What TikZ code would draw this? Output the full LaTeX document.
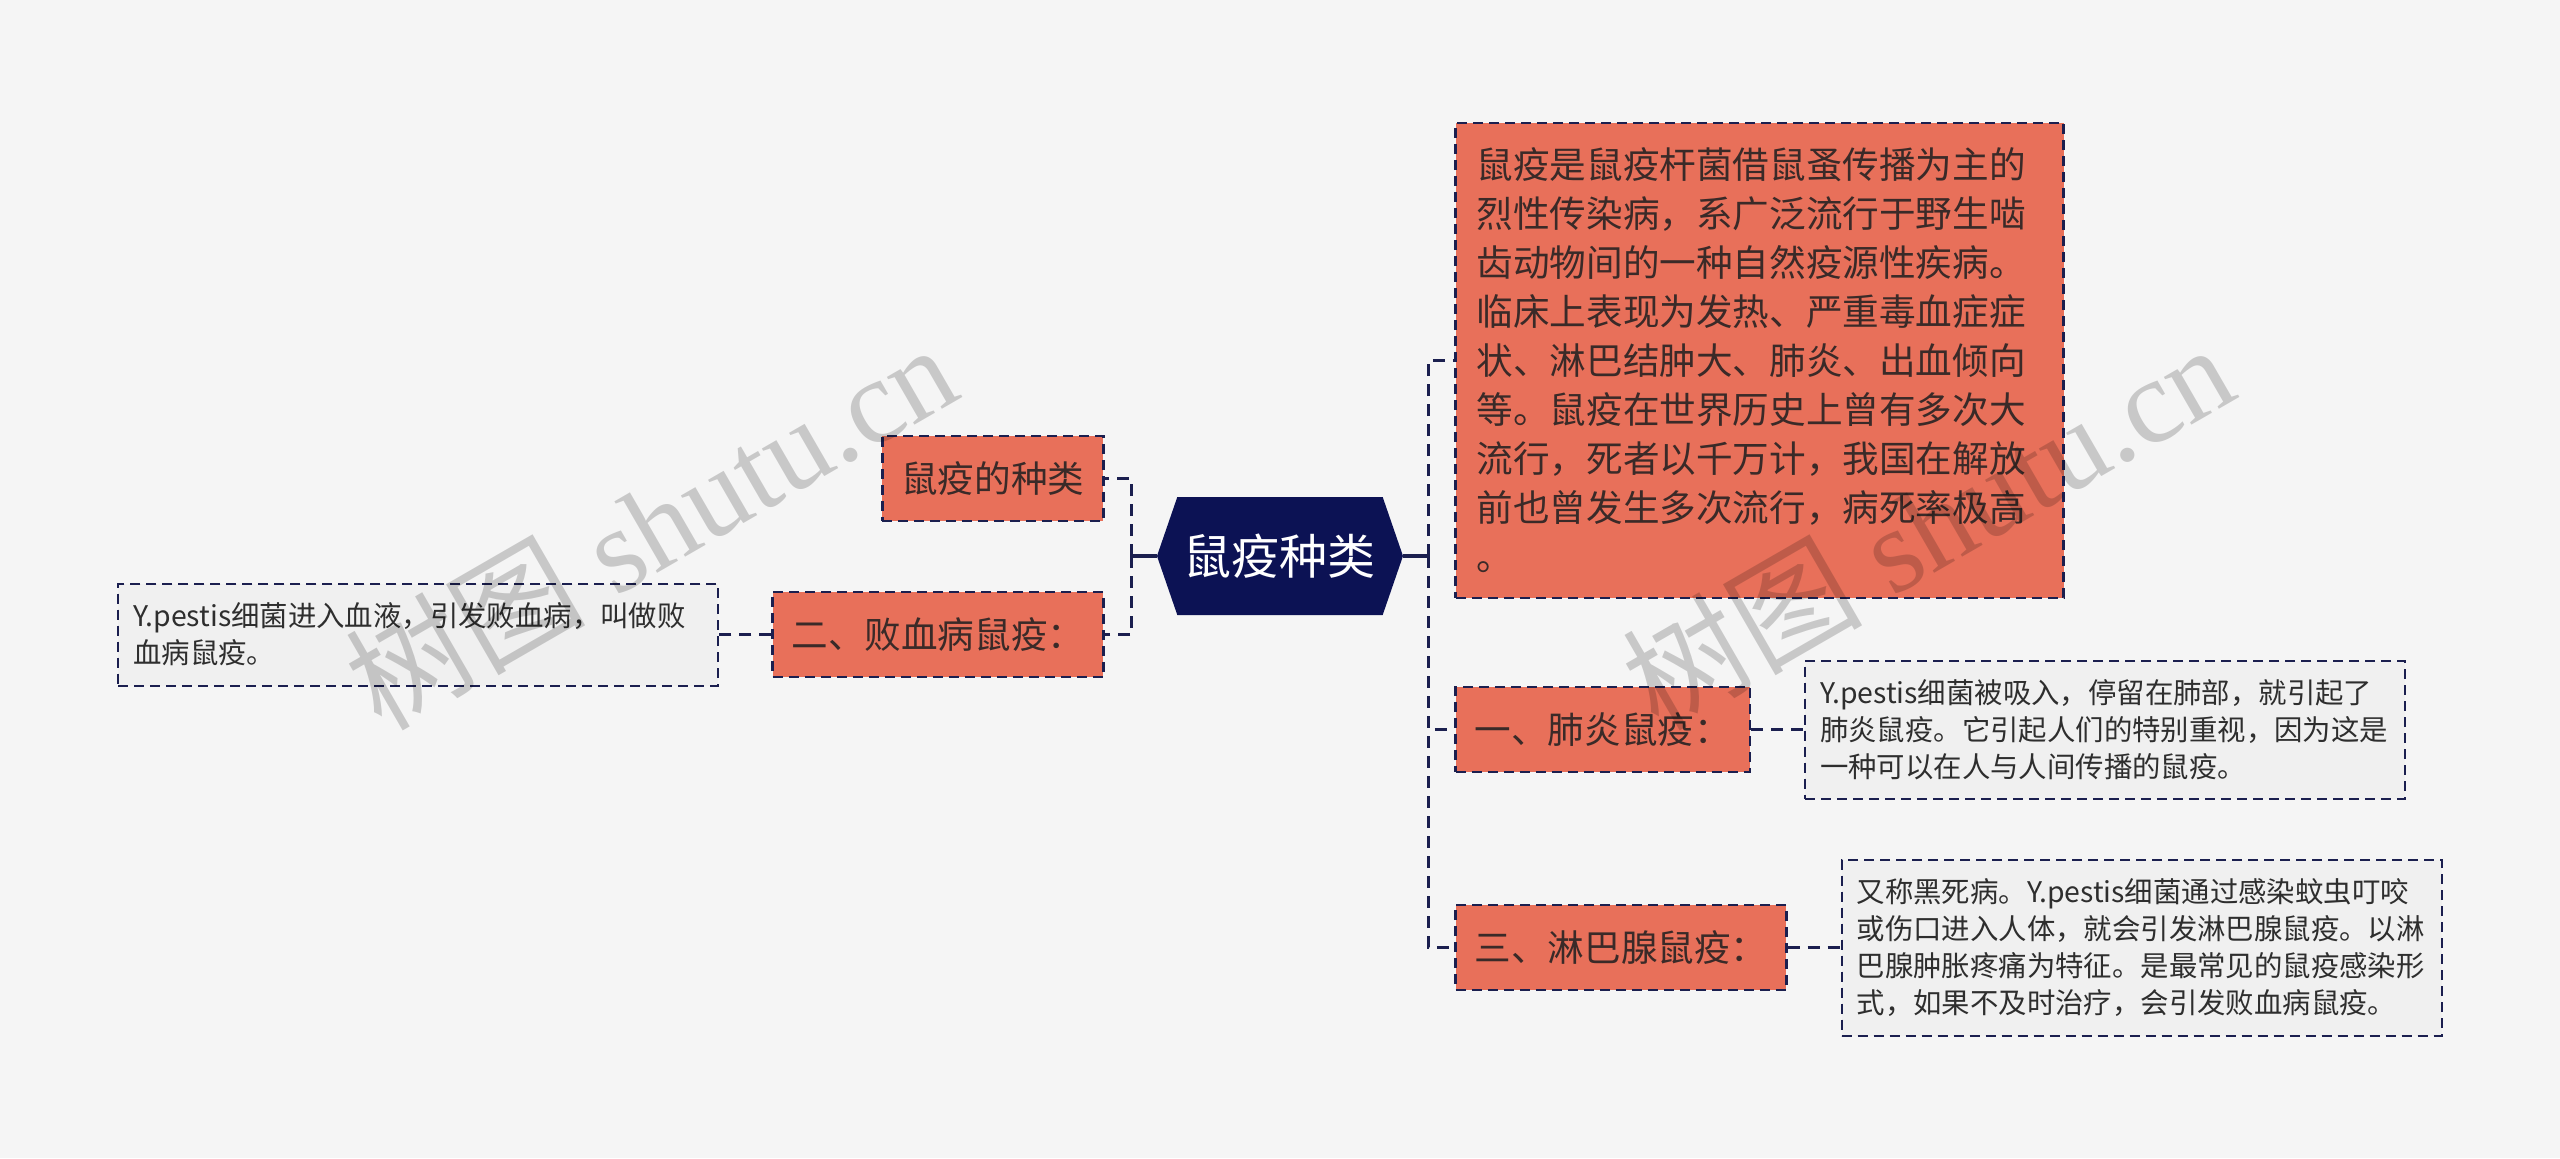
\documentclass[tikz,border=0pt]{standalone}
\usepackage{fontspec}
\setmainfont{Noto Sans CJK SC}
\newfontfamily\cjkfont{Noto Sans CJK SC}
\newfontfamily\wmfont{Liberation Serif}
\usepackage{tikz}
\usetikzlibrary{positioning,shapes.symbols}

\definecolor{bgcol}{HTML}{F5F5F5}
\definecolor{navy}{HTML}{0C1254}
\definecolor{salmon}{HTML}{E8705A}
\definecolor{linecol}{HTML}{1B1F4F}
\definecolor{notefill}{HTML}{F0F0F0}
\definecolor{topictext}{HTML}{3A2A28}
\definecolor{notetext}{HTML}{2E2E2E}

\begin{document}
\begin{tikzpicture}[node distance=26pt,
	root/.style={signal, signal to=east and west, signal pointer angle=142, fill=navy, text=white,
		minimum width=123pt, minimum height=59pt, inner sep=0pt, font=\fontsize{24pt}{28pt}\selectfont},
	topic/.style={rectangle, fill=salmon, draw=linecol, line width=1.2pt, dash pattern=on 5pt off 3pt,
		text=topictext, minimum height=42.5pt, inner xsep=9.5pt, font=\fontsize{18.3pt}{22pt}\selectfont},
	note/.style={rectangle, fill=notefill, draw=linecol, line width=1pt, dash pattern=on 5pt off 3pt,
		text=notetext, align=left, text width=285pt, inner xsep=7.5pt, font=\fontsize{14.2pt}{18.5pt}\selectfont},
	trunk/.style={draw=linecol, line width=1.6pt},
	link/.style={draw=linecol, line width=1.4pt, dash pattern=on 6pt off 4pt},
	wmark/.style={text=black, opacity=0.18, rotate=30, font=\wmfont\fontsize{60pt}{60pt}\selectfont}]

	% Canvas
	\fill [bgcol] (-640pt,-301pt) rectangle (640pt,278pt);
	\useasboundingbox (-640pt,-301pt) rectangle (640pt,278pt);

	% Nodes {root, left branch, right branch}
	\node [root] (root) {鼠疫种类};

	\node [topic, left=26pt of root, yshift=38.75pt] (kinds) {鼠疫的种类};
	\node [topic, left=26pt of root, yshift=-39.25pt] (sepsis) {二、败血病鼠疫：};
	\node [note, left=26pt of sepsis, minimum height=51pt] (sepsisnote)
		{Y.pestis细菌进入血液，引发败血病，叫做败\\血病鼠疫。};

	\node [topic, right=25.5pt of root, yshift=97.75pt, align=left, text width=283pt, inner xsep=10.5pt,
		minimum height=237.5pt, font=\fontsize{18.3pt}{24.5pt}\selectfont] (intro)
		{鼠疫是鼠疫杆菌借鼠蚤传播为主的\\烈性传染病，系广泛流行于野生啮\\齿动物间的一种自然疫源性疾病。\\
		临床上表现为发热、严重毒血症症\\状、淋巴结肿大、肺炎、出血倾向\\等。鼠疫在世界历史上曾有多次大\\
		流行，死者以千万计，我国在解放\\前也曾发生多次流行，病死率极高\\。};
	\node [topic, right=25.5pt of root, yshift=-86.75pt] (lung) {一、肺炎鼠疫：};
	\node [topic, right=25.5pt of root, yshift=-195.75pt] (bubo) {三、淋巴腺鼠疫：};
	\node [note, right=26.5pt of lung, minimum height=69pt] (lungnote)
		{Y.pestis细菌被吸入，停留在肺部，就引起了\\肺炎鼠疫。它引起人们的特别重视，因为这是\\一种可以在人与人间传播的鼠疫。};
	\node [note, right=26.5pt of bubo, minimum height=88pt] (bubonote)
		{又称黑死病。Y.pestis细菌通过感染蚊虫叮咬\\或伤口进入人体，就会引发淋巴腺鼠疫。以淋\\
		巴腺肿胀疼痛为特征。是最常见的鼠疫感染形\\式，如果不及时治疗，会引发败血病鼠疫。};

	% Paths
	\coordinate [left=12.5pt of root] (lj);
	\coordinate [right=12.5pt of root] (rj);
	\draw [trunk] (root.west) -- (lj);
	\draw [trunk] (root.east) -- (rj);
	\draw [link] (lj) |- (kinds.east);
	\draw [link] (lj) |- (sepsis.east);
	\draw [link] (rj) |- (intro.west);
	\draw [link] (rj) |- (lung.west);
	\draw [link] (rj) |- (bubo.west);
	\draw [link] (sepsis.west) -- (sepsisnote.east);
	\draw [link] (lung.east) -- (lungnote.west);
	\draw [link] (bubo.east) -- (bubonote.west);

	% Watermark
	\node [wmark] (wm1) at (-315pt,15.5pt) {{\cjkfont 树图} shutu.cn};
	\node [wmark] (wm2) at (323.5pt,15.5pt) {{\cjkfont 树图} shutu.cn};

\end{tikzpicture}
\end{document}
